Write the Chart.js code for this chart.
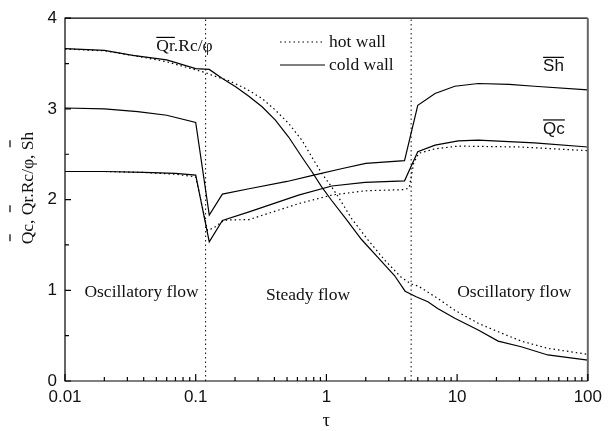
<!DOCTYPE html>
<html>
<head>
<meta charset="utf-8">
<script src="https://cdn.jsdelivr.net/npm/chart.js@4.4.1/dist/chart.umd.min.js"></script>
<style>
  html, body { margin: 0; padding: 0; background: #fff; }
  #wrap { width: 608px; height: 431px; }
</style>
</head>
<body>
<div id="wrap"><canvas id="chart" width="608" height="431"></canvas></div>
<script>
// values, tau on a log axis

// Qr.Rc/phi
const tauQrCold = [0.01, 0.02, 0.033, 0.06, 0.1, 0.127, 0.16, 0.202, 0.255, 0.322, 0.407, 0.514, 0.649, 0.773, 0.92, 1.097, 1.387, 1.857, 2.485, 3.33, 4.0, 4.86, 5.97, 7.1, 9.6, 14.5, 20.6, 30.9, 49.4, 100];
const qrCold    = [3.664, 3.645, 3.59, 3.54, 3.445, 3.435, 3.335, 3.243, 3.14, 3.023, 2.876, 2.69, 2.47, 2.31, 2.14, 1.99, 1.80, 1.56, 1.36, 1.16, 0.99, 0.929, 0.874, 0.80, 0.691, 0.562, 0.44, 0.378, 0.287, 0.231];
const tauQrHot  = [0.01, 0.02, 0.033, 0.06, 0.1, 0.119, 0.134, 0.18, 0.24, 0.322, 0.407, 0.514, 0.649, 0.773, 0.92, 1.097, 1.233, 1.56, 2.085, 2.79, 3.74, 4.45, 5.07, 5.63, 7.1, 9.6, 14.5, 20.6, 30.9, 49.4, 100];
const qrHot     = [3.66, 3.64, 3.59, 3.52, 3.43, 3.40, 3.37, 3.31, 3.225, 3.115, 2.986, 2.84, 2.656, 2.47, 2.29, 2.14, 2.03, 1.79, 1.554, 1.333, 1.143, 1.07, 1.045, 1.003, 0.911, 0.78, 0.636, 0.543, 0.44, 0.36, 0.294];

// Sh (cold wall only)
const tauSh = [0.01, 0.02, 0.036, 0.06, 0.1, 0.127, 0.16, 0.256, 0.5, 0.8, 1.3, 2.0, 3.96, 5.0, 6.78, 9.6, 14.5, 25, 39, 100];
const sh    = [3.01, 3.0, 2.97, 2.93, 2.85, 1.83, 2.06, 2.12, 2.20, 2.27, 2.34, 2.40, 2.43, 3.04, 3.17, 3.25, 3.28, 3.27, 3.25, 3.21];

// Qc
const tauQcCold = [0.01, 0.02, 0.04, 0.07, 0.1, 0.127, 0.16, 0.256, 0.612, 1.1, 1.97, 3.96, 5.0, 6.78, 10.2, 14.5, 39, 100];
const qcCold    = [2.31, 2.31, 2.30, 2.29, 2.27, 1.535, 1.77, 1.865, 2.05, 2.15, 2.19, 2.207, 2.527, 2.60, 2.648, 2.656, 2.626, 2.58];
const tauQcHot  = [0.01, 0.02, 0.04, 0.07, 0.1, 0.123, 0.138, 0.165, 0.256, 0.612, 1.1, 1.97, 3.96, 4.3, 4.65, 5.08, 6.78, 10.2, 30, 100];
const qcHot     = [2.31, 2.31, 2.30, 2.28, 2.25, 1.66, 1.69, 1.774, 1.78, 1.955, 2.05, 2.097, 2.11, 2.13, 2.40, 2.51, 2.56, 2.59, 2.58, 2.54];

// oscillatory / steady boundaries
const flowBounds = [0.119, 4.45];
const xMajor = [0.01, 0.1, 1, 10, 100];
const yMajor = [0, 1, 2, 3, 4];
const yMinor = [0.5, 1.5, 2.5, 3.5];

const serif = '"Liberation Serif", "Times New Roman", serif';
const sans = '"Liberation Sans", Arial, sans-serif';

function pts(xs, ys) {
  return xs.map((x, i) => ({ x: x, y: ys[i] }));
}

function line(data, dotted) {
  return {
    data: data,
    showLine: true,
    borderColor: '#000',
    borderWidth: 1.2,
    borderDash: dotted ? [1.5, 3] : [],
    pointRadius: 0,
    tension: 0,
    fill: false
  };
}

const datasets = [
  line(pts(tauQrCold, qrCold), false),
  line(pts(tauQrHot, qrHot), true),
  line(pts(tauSh, sh), false),
  line(pts(tauQcCold, qcCold), false),
  line(pts(tauQcHot, qcHot), true)
];
flowBounds.forEach(b => {
  const d = line(pts([b, b], [0, 4]), true);
  d.borderColor = '#222';
  d.borderWidth = 1.1;
  datasets.push(d);
});

// text with an overline over its first `n` characters
function overText(ctx, str, x, y, n) {
  ctx.fillText(str, x, y);
  const w = ctx.measureText(str.slice(0, n)).width;
  ctx.beginPath();
  ctx.moveTo(x, y - 14);
  ctx.lineTo(x + w, y - 14);
  ctx.stroke();
}

const decor = {
  id: 'decor',
  afterDraw(chart) {
    const ctx = chart.ctx;
    const a = chart.chartArea;
    const xs = chart.scales.x, ys = chart.scales.y;
    ctx.save();
    ctx.strokeStyle = '#000';
    ctx.lineWidth = 1.2;
    ctx.setLineDash([]);

    // frame
    ctx.beginPath();
    ctx.moveTo(a.right, a.top);
    ctx.lineTo(a.left, a.top);
    ctx.lineTo(a.left, a.bottom);
    ctx.lineTo(a.right, a.bottom);
    ctx.stroke();
    ctx.strokeStyle = '#666';
    ctx.lineWidth = 2;
    ctx.beginPath();
    ctx.moveTo(a.right, a.top);
    ctx.lineTo(a.right, a.bottom);
    ctx.stroke();

    // inward ticks
    ctx.strokeStyle = '#000';
    ctx.lineWidth = 1.2;
    ctx.beginPath();
    yMajor.forEach(v => {
      const py = ys.getPixelForValue(v);
      ctx.moveTo(a.left, py); ctx.lineTo(a.left + 6, py);
    });
    yMinor.forEach(v => {
      const py = ys.getPixelForValue(v);
      ctx.moveTo(a.left, py); ctx.lineTo(a.left + 4, py);
    });
    xMajor.forEach(v => {
      const px = xs.getPixelForValue(v);
      ctx.moveTo(px, a.bottom); ctx.lineTo(px, a.bottom - 7);
    });
    for (let e = -2; e < 2; e++) {
      for (let k = 2; k < 10; k++) {
        const px = xs.getPixelForValue(k * Math.pow(10, e));
        ctx.moveTo(px, a.bottom); ctx.lineTo(px, a.bottom - 4);
      }
    }
    ctx.stroke();

    // region labels
    ctx.fillStyle = '#111';
    ctx.font = '17.5px ' + serif;
    ctx.textBaseline = 'middle';
    ctx.textAlign = 'center';
    ctx.fillText('Oscillatory flow', xs.getPixelForValue(0.0385), ys.getPixelForValue(0.98));
    ctx.fillText('Steady flow', xs.getPixelForValue(0.723), ys.getPixelForValue(0.94));
    ctx.fillText('Oscillatory flow', xs.getPixelForValue(27.4), ys.getPixelForValue(0.98));

    // curve labels
    ctx.textBaseline = 'alphabetic';
    ctx.textAlign = 'left';
    ctx.lineWidth = 1.2;
    overText(ctx, 'Qr.Rc/\u03c6', xs.getPixelForValue(0.05), ys.getPixelForValue(3.70) + 6, 2);
    ctx.font = '17px ' + sans;
    overText(ctx, 'Sh', xs.getPixelForValue(45.5), ys.getPixelForValue(3.48) + 6, 2);
    overText(ctx, 'Qc', xs.getPixelForValue(45.5), ys.getPixelForValue(2.79) + 6, 2);

    // legend
    ctx.font = '17.5px ' + serif;
    ctx.textBaseline = 'middle';
    ctx.lineWidth = 1.2;
    ctx.setLineDash([1.5, 3]);
    ctx.beginPath(); ctx.moveTo(280, 42); ctx.lineTo(325, 42); ctx.stroke();
    ctx.setLineDash([]);
    ctx.beginPath(); ctx.moveTo(280, 65); ctx.lineTo(325, 65); ctx.stroke();
    ctx.fillText('hot wall', 329, 42);
    ctx.fillText('cold wall', 329, 65);

    // axis titles
    ctx.textAlign = 'center';
    ctx.font = '19px ' + serif;
    ctx.fillText('\u03c4', xs.getPixelForValue(1), 421);

    ctx.save();
    ctx.translate(28, 188);
    ctx.rotate(-Math.PI / 2);
    ctx.font = '17.5px ' + serif;
    ctx.textAlign = 'left';
    ctx.textBaseline = 'middle';
    const title = 'Qc, Qr.Rc/\u03c6, Sh';
    const tw = ctx.measureText(title).width;
    const x0 = -tw / 2;
    ctx.fillText(title, x0, 0);
    ctx.lineWidth = 1.2;
    const marks = [0, title.indexOf('Qr'), title.indexOf('Sh')];
    ctx.beginPath();
    marks.forEach(i => {
      const sx = x0 + ctx.measureText(title.slice(0, i)).width + 3;
      ctx.moveTo(sx, -18); ctx.lineTo(sx + 7, -18);
    });
    ctx.stroke();
    ctx.restore();

    ctx.restore();
  }
};

new Chart(document.getElementById('chart'), {
  type: 'scatter',
  data: { datasets: datasets },
  options: {
    responsive: false,
    animation: false,
    devicePixelRatio: 1,
    layout: { padding: { left: 0, right: 17, top: 18, bottom: 0 } },
    plugins: {
      legend: { display: false },
      tooltip: { enabled: false }
    },
    scales: {
      x: {
        type: 'logarithmic',
        min: 0.01,
        max: 100,
        grid: { display: false, drawTicks: false },
        border: { display: false },
        afterFit: s => { s.height = 50; },
        ticks: {
          autoSkip: false,
          maxRotation: 0,
          padding: 6,
          color: '#111',
          font: { family: sans, size: 17 },
          callback: v => xMajor.some(m => Math.abs(m - v) < m * 1e-6) ? String(v) : ''
        }
      },
      y: {
        min: 0,
        max: 4,
        grid: { display: false, drawTicks: false },
        border: { display: false },
        afterFit: s => { s.width = 65; },
        ticks: {
          stepSize: 1,
          padding: 8,
          color: '#111',
          font: { family: sans, size: 17 }
        }
      }
    }
  },
  plugins: [decor]
});
</script>
</body>
</html>
